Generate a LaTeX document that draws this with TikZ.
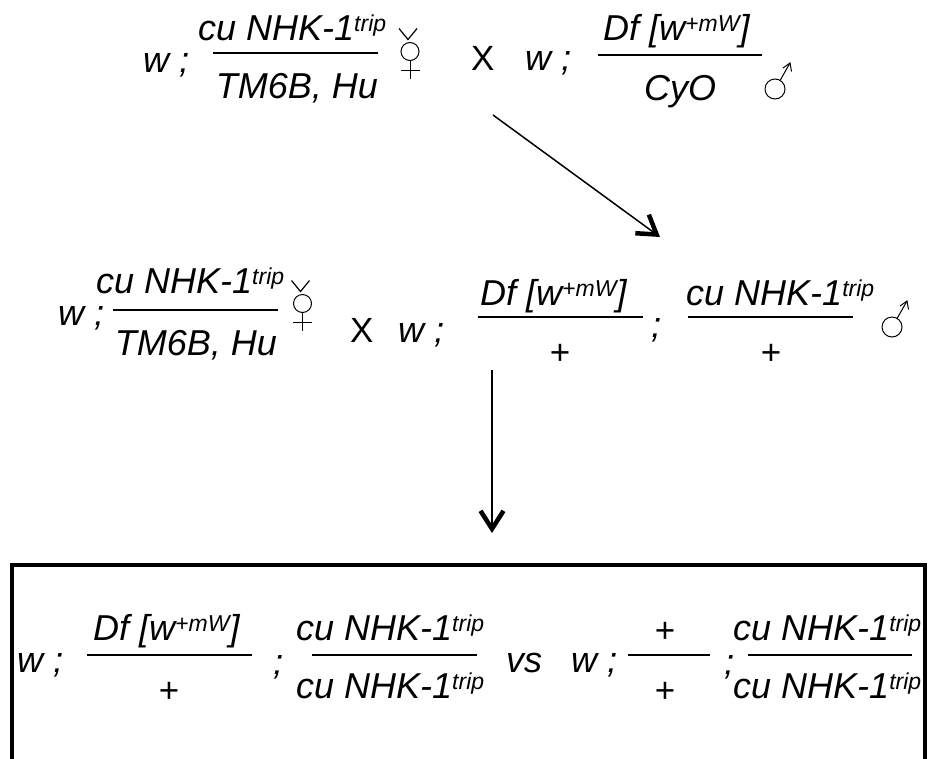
\documentclass[tikz,border=0pt]{standalone}
\usepackage{fontspec}
\usetikzlibrary{arrows.meta}
\newfontfamily\gf{Liberation Sans}
% raised, smaller text for allele superscripts
\newcommand\sups[1]{\raisebox{9pt}{\fontsize{23}{23}\selectfont #1}}
\begin{document}
\begin{tikzpicture}[x=1pt,y=-1pt,
  gt/.style={font=\gf\itshape\fontsize{36}{38}\selectfont, inner sep=0pt, anchor=base west},
  gtc/.style={gt, anchor=base},
  up/.style={font=\gf\fontsize{35}{37}\selectfont, inner sep=0pt, anchor=base west},
  upc/.style={up, anchor=base},
  bar/.style={line width=1.5pt},
  cross/.style={line width=1.5pt, -{Straight Barb[length=18pt,width=23pt,line width=4.5pt]}},
  sexsym/.style={line width=1pt},
  pics/female/.style={code={
    \draw[sexsym] (0,0) circle (9);
    \draw[sexsym] (0,9) -- (0,27) (-9.5,19) -- (9.5,19);
    \draw[line width=1.2pt] (-11,-23) -- (-2,-12) -- (7,-23);
  }},
  pics/male/.style={code={
    \draw[sexsym] (0,0) circle (10);
    \draw[sexsym] (5.1,-8.6) -- (15,-26);
    \draw[sexsym] (8,-21) -- (15,-26) -- (16.5,-17.5);
  }}]
\useasboundingbox (0,0) rectangle (933,758);

% first cross
\node[gt] (a1) at (143,72) {w ;};
\node[gt] (a2) at (198,40) {cu NHK-1\sups{trip}};
\coordinate (a3l) at (213,53); \coordinate (a3r) at (378,53);
\draw[bar] (a3l) -- (a3r);
\node[gtc] (a4) at (297,98) {TM6B, Hu};
\pic at (410,51.5) {female};
\node[up] (ax) at (471,70) {X};
\node[gt] (a5) at (525,70) {w ;};
\node[gt] (a6) at (603,40) {Df [w\sups{+mW}]};
\coordinate (a7l) at (598,55); \coordinate (a7r) at (762,55);
\draw[bar] (a7l) -- (a7r);
\node[gtc] (a8) at (680,100) {CyO};
\pic at (775,89) {male};

% second cross
\node[gt] (b1) at (58,325) {w ;};
\node[gt] (b2) at (96,293) {cu NHK-1\sups{trip}};
\coordinate (b3l) at (113,310); \coordinate (b3r) at (278,310);
\draw[bar] (b3l) -- (b3r);
\node[gtc] (b4) at (196,355) {TM6B, Hu};
\pic at (302.5,303.5) {female};
\node[up] (bx) at (350,342) {X};
\node[gt] (b5) at (398,342) {w ;};
\node[gt] (b6) at (480,305) {Df [w\sups{+mW}]};
\coordinate (b7l) at (478,317); \coordinate (b7r) at (643,317);
\draw[bar] (b7l) -- (b7r);
\node[upc] (b8) at (560,364) {+};
\node[gt] (b9) at (651,337) {;};
\node[gt] (b10) at (686,305) {cu NHK-1\sups{trip}};
\coordinate (b11l) at (688,317); \coordinate (b11r) at (853,317);
\draw[bar] (b11l) -- (b11r);
\node[upc] (b12) at (771,364) {+};
\pic at (892,327) {male};

% arrows between generations
\coordinate (p1) at (493,115); \coordinate (p2) at (660,237);
\draw[cross] (p1) -- (p2);
\coordinate (q1) at (492,370); \coordinate (q2) at (492,533);
\draw[cross] (q1) -- (q2);

% compared progeny
\begin{scope}
\clip (0,0) rectangle (925,758);
\node[gt] (c1) at (17,672) {w ;};
\node[gt] (c2) at (93,640) {Df [w\sups{+mW}]};
\coordinate (c3l) at (87,655); \coordinate (c3r) at (252,655);
\draw[bar] (c3l) -- (c3r);
\node[upc] (c4) at (169,702) {+};
\node[gt] (c5) at (273,674) {;};
\node[gt] (c6) at (296,640) {cu NHK-1\sups{trip}};
\node[gt] (c7) at (296,698) {cu NHK-1\sups{trip}};
\coordinate (c8l) at (312,655); \coordinate (c8r) at (477,655);
\draw[bar] (c8l) -- (c8r);
\node[gt] (c9) at (506,672) {vs};
\node[gt] (c10) at (571,672) {w ;};
\node[upc] (c11) at (665,642) {+};
\node[upc] (c12) at (665,702) {+};
\coordinate (c13l) at (628,655); \coordinate (c13r) at (710,655);
\draw[bar] (c13l) -- (c13r);
\node[gt] (c14) at (724,674) {;};
\node[gt] (c15) at (733,640) {cu NHK-1\sups{trip}};
\node[gt] (c16) at (733,698) {cu NHK-1\sups{trip}};
\coordinate (c17l) at (748,655); \coordinate (c17r) at (912,655);
\draw[bar] (c17l) -- (c17r);
\end{scope}
\begin{scope}
\clip (0,0) rectangle (933,758);
\draw[line width=3.5pt] (12,790) -- (12,565) -- (925,565) -- (925,790);
\end{scope}
\end{tikzpicture}
\end{document}
